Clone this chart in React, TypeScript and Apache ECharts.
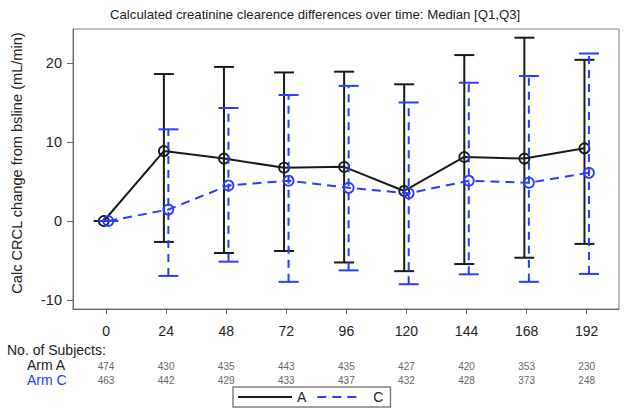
import React, { useEffect, useRef } from "react";
import * as echarts from "echarts";

const hours = [0, 24, 48, 72, 96, 120, 144, 168, 192];
const medianA = [0, 8.85, 7.9, 6.75, 6.85, 3.8, 8.1, 7.9, 9.2];
const q1A = [0, -2.65, -4.05, -3.8, -5.25, -6.35, -5.45, -4.65, -2.9];
const q3A = [0, 18.6, 19.5, 18.8, 18.9, 17.3, 21.0, 23.2, 20.4];
const medianC = [0, 1.45, 4.5, 5.1, 4.2, 3.5, 5.1, 4.85, 6.1];
const q1C = [0, -6.95, -5.15, -7.7, -6.25, -8.0, -6.75, -7.7, -6.7];
const q3C = [0, 11.6, 14.3, 15.95, 17.1, 15.0, 17.5, 18.35, 21.2];
const subjectsA = [474, 430, 435, 443, 435, 427, 420, 353, 230];
const subjectsC = [463, 442, 429, 433, 437, 432, 428, 373, 248];
const yTicks = [-10, 0, 10, 20];

const BLACK = "#1a1a1a";
const BLUE = "#2a3cff";
const FONT = "Liberation Sans, Arial, sans-serif";
const OFFSET = 0.9;

const ICON_SOLID = "path://M0,0h54v2h-54z";
const ICON_DASH =
  "path://M0,0h0.05v2h-0.05zM3,0h9v2h-9zM18,0h9v2h-9zM33,0h9v2h-9zM53.95,0h0.05v2h-0.05z";

function errorBars(color: string, dashed: boolean) {
  return (params: any, api: any) => {
    const x = api.value(0);
    const lo = api.coord([x, api.value(1)]);
    const hi = api.coord([x, api.value(2)]);
    const hw = 10;
    return {
      type: "group",
      children: [
        {
          type: "line",
          shape: { x1: lo[0], y1: lo[1], x2: hi[0], y2: hi[1] },
          style: { stroke: color, lineWidth: 2, lineDash: dashed ? [8, 6] : null },
        },
        {
          type: "line",
          shape: { x1: lo[0] - hw, y1: lo[1], x2: lo[0] + hw, y2: lo[1] },
          style: { stroke: color, lineWidth: 2 },
        },
        {
          type: "line",
          shape: { x1: hi[0] - hw, y1: hi[1], x2: hi[0] + hw, y2: hi[1] },
          style: { stroke: color, lineWidth: 2 },
        },
      ],
    };
  };
}

export default function App() {
  const ref = useRef<HTMLDivElement>(null);
  useEffect(() => {
    document.body.style.margin = "0";
    const chart = echarts.init(ref.current!, null, { renderer: "svg" });
    const countAxis = (counts: number[], offset: number) => ({
      type: "value",
      gridIndex: 0,
      position: "bottom",
      offset,
      min: -13.2,
      max: 204.9,
      axisLine: { show: false, onZero: false },
      axisTick: { show: false },
      splitLine: { show: false },
      axisLabel: {
        customValues: hours,
        margin: 0,
        verticalAlign: "middle",
        fontSize: 10,
        color: "#666",
        fontFamily: FONT,
        formatter: (v: number) => {
          const i = hours.indexOf(Math.round(v));
          return i >= 0 ? String(counts[i]) : "";
        },
      },
    });
    chart.setOption({
      animation: false,
      backgroundColor: "#fff",
      title: {
        text: "Calculated creatinine clearence differences over time: Median [Q1,Q3]",
        left: 110,
        top: 8,
        padding: 0,
        textStyle: { fontSize: 13.2, fontWeight: "normal", color: "#222", fontFamily: FONT },
      },
      grid: {
        left: 73,
        top: 29,
        width: 546,
        height: 280,
        show: true,
        borderColor: "#808080",
        borderWidth: 1,
      },
      legend: {
        data: [
          { name: "A", icon: ICON_SOLID },
          { name: "C", icon: ICON_DASH },
        ],
        left: 233,
        top: 387,
        padding: [2, 7, 2, 5],
        borderColor: "#808080",
        borderWidth: 1.5,
        itemWidth: 54,
        itemHeight: 2,
        itemGap: 8,
        textStyle: { fontSize: 14, color: "#222", fontFamily: FONT, lineHeight: 16 },
      },
      xAxis: [
        {
          type: "value",
          min: -13.2,
          max: 204.9,
          axisLine: { show: true, onZero: false, lineStyle: { color: "#666", width: 1 } },
          axisTick: { show: true, customValues: hours, length: 5, lineStyle: { color: "#666" } },
          splitLine: { show: false },
          axisLabel: {
            customValues: hours,
            margin: 15,
            fontSize: 14,
            color: "#222",
            fontFamily: FONT,
          },
        },
        countAxis(subjectsA, 57),
        countAxis(subjectsC, 71),
      ],
      yAxis: {
        type: "value",
        min: -11.14,
        max: 24.3,
        axisLine: { show: true, onZero: false, lineStyle: { color: "#666", width: 1 } },
        axisTick: { show: true, customValues: yTicks, length: 6, lineStyle: { color: "#666" } },
        splitLine: { show: false },
        axisLabel: {
          customValues: yTicks,
          margin: 11,
          fontSize: 14.5,
          color: "#222",
          fontFamily: FONT,
        },
      },
      graphic: [
        {
          type: "text",
          x: 17,
          y: 163,
          rotation: Math.PI / 2,
          style: {
            text: "Calc CRCL change from bsline (mL/min)",
            fontSize: 14.6,
            fill: "#222",
            fontFamily: FONT,
            align: "center",
            verticalAlign: "middle",
          },
        },
        {
          type: "text",
          left: 7,
          top: 343,
          style: { text: "No. of Subjects:", fontSize: 14, lineHeight: 14, fill: "#222", fontFamily: FONT },
        },
        {
          type: "text",
          left: 27,
          top: 358,
          style: { text: "Arm A", fontSize: 14, lineHeight: 14, fill: "#222", fontFamily: FONT },
        },
        {
          type: "text",
          left: 27,
          top: 373,
          style: { text: "Arm C", fontSize: 14, lineHeight: 14, fill: BLUE, fontFamily: FONT },
        },
      ],
      series: [
        {
          name: "errA",
          type: "custom",
          renderItem: errorBars(BLACK, false),
          encode: { x: 0, y: [1, 2] },
          data: hours.map((h, i) => [h - OFFSET, q1A[i], q3A[i]]),
          z: 2,
        },
        {
          name: "lineA",
          type: "line",
          data: hours.map((h, i) => [h - OFFSET, medianA[i]]),
          symbol: "circle",
          symbolSize: 10,
          itemStyle: { color: "rgba(0,0,0,0)", borderColor: BLACK, borderWidth: 1.8 },
          lineStyle: { color: BLACK, width: 2 },
          z: 3,
        },
        {
          name: "errC",
          type: "custom",
          renderItem: errorBars(BLUE, true),
          encode: { x: 0, y: [1, 2] },
          data: hours.map((h, i) => [h + OFFSET, q1C[i], q3C[i]]),
          z: 4,
        },
        {
          name: "lineC",
          type: "line",
          data: hours.map((h, i) => [h + OFFSET, medianC[i]]),
          symbol: "circle",
          symbolSize: 10,
          itemStyle: { color: "rgba(0,0,0,0)", borderColor: BLUE, borderWidth: 1.8 },
          lineStyle: { color: BLUE, width: 2, type: [9, 6] },
          z: 5,
        },
        {
          name: "A",
          type: "line",
          data: [],
          symbol: "none",
          itemStyle: { color: BLACK },
          lineStyle: { color: BLACK, width: 2 },
        },
        {
          name: "C",
          type: "line",
          data: [],
          symbol: "none",
          itemStyle: { color: BLUE },
          lineStyle: { color: BLUE, width: 2 },
        },
      ],
    });
    return () => chart.dispose();
  }, []);
  return <div ref={ref} style={{ width: 629, height: 416 }} />;
}
